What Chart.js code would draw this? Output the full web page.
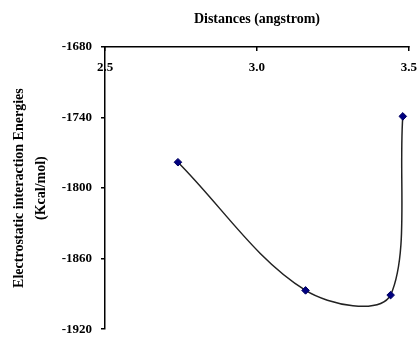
<!DOCTYPE html>
<html>
<head>
<meta charset="utf-8">
<script src="https://cdn.jsdelivr.net/npm/chart.js@4.4.0/dist/chart.umd.min.js"></script>
<style>
html, body { margin: 0; padding: 0; background: #fff; }
#wrap { width: 417px; height: 337px; }
</style>
</head>
<body>
<div id="wrap"><canvas id="energyChart"></canvas></div>
<script>
const distances = [2.74, 3.16, 3.44, 3.48];
const energies = [-1778, -1887, -1891, -1739];
const xTicks = [2.5, 3.0, 3.5];
const yTicks = [-1680, -1740, -1800, -1860, -1920];

const serif = "'Liberation Serif', 'Times New Roman', serif";

const points = distances.map((d, i) => ({ x: d, y: energies[i] }));

new Chart(document.getElementById("energyChart"), {
    type: "scatter",
    data: {
        datasets: [{
            data: points,
            showLine: true,
            tension: 0.35,
            borderColor: "#222",
            borderWidth: 1.5,
            pointStyle: "rectRot",
            pointRadius: 3.8,
            pointBackgroundColor: "#000080",
            pointBorderColor: "#000060",
            pointBorderWidth: 1
        }]
    },
    options: {
        responsive: true,
        maintainAspectRatio: false,
        animation: false,
        layout: { padding: { left: 8, right: 0, top: 11, bottom: 0 } },
        plugins: {
            legend: { display: false },
            tooltip: { enabled: false }
        },
        scales: {
            x: {
                type: "linear",
                position: "top",
                min: 2.5,
                max: 3.5,
                afterBuildTicks(scale) {
                    scale.ticks = xTicks.map(v => ({ value: v }));
                },
                afterFit(scale) {
                    scale.height = 36;
                },
                ticks: {
                    mirror: true,
                    padding: 0,
                    color: "#000",
                    font: { family: serif, size: 13, weight: "bold", lineHeight: 3.2 },
                    callback: v => Number(v).toFixed(1)
                },
                grid: { drawOnChartArea: false, tickLength: -4, color: "#000", lineWidth: 1.5 },
                border: { color: "#000", width: 1.5 },
                title: {
                    display: true,
                    text: "Distances (angstrom)",
                    color: "#000",
                    font: { family: serif, size: 14, weight: "bold" },
                    padding: { top: 0, bottom: 9 }
                }
            },
            y: {
                type: "linear",
                min: -1920,
                max: -1680,
                afterBuildTicks(scale) {
                    scale.ticks = yTicks.map(v => ({ value: v }));
                },
                afterFit(scale) {
                    scale.width = 97;
                },
                ticks: {
                    padding: 0,
                    color: "#000",
                    font: { family: serif, size: 13, weight: "bold" },
                    callback: v => String(v)
                },
                grid: {
                    drawOnChartArea: false,
                    tickLength: 13,
                    // only the 4px next to the axis is visible
                    tickBorderDash: [0, 9, 4, 40],
                    color: "#000",
                    lineWidth: 1.5
                },
                border: { color: "#000", width: 1.5 },
                title: {
                    display: true,
                    text: ["Electrostatic interaction Energies", "(Kcal/mol)"],
                    color: "#000",
                    font: { family: serif, size: 14, weight: "bold", lineHeight: 1.6 },
                    padding: { top: 0, bottom: 0 }
                }
            }
        }
    }
});
</script>
</body>
</html>
